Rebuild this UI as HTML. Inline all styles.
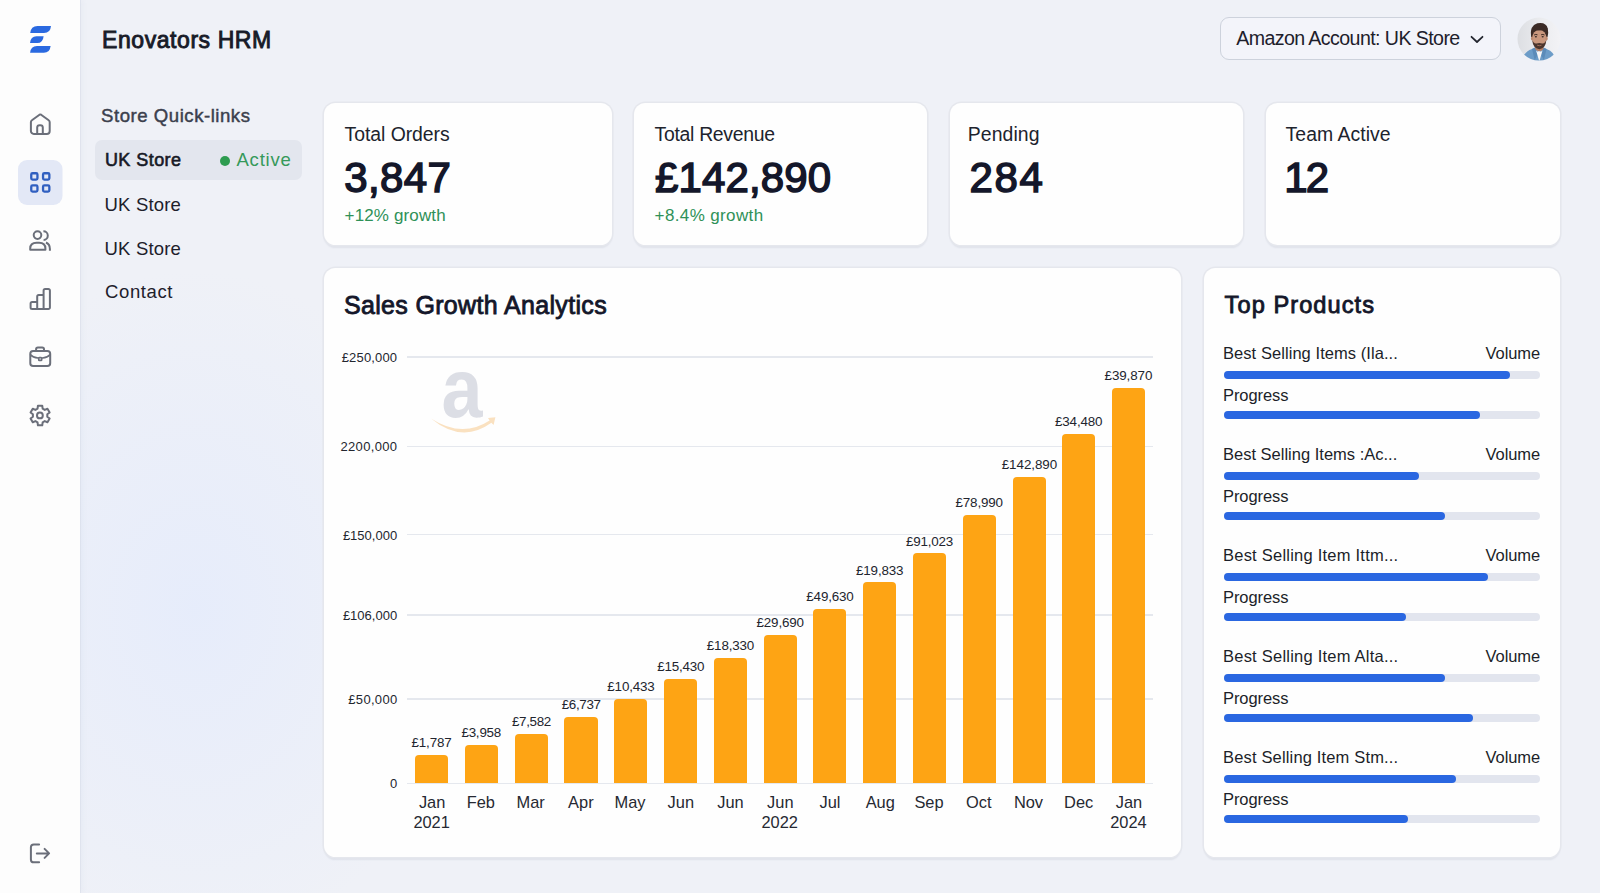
<!DOCTYPE html>
<html lang="en"><head><meta charset="utf-8"><title>Enovators HRM</title>
<style>
html,body{margin:0;padding:0}
body{width:1600px;height:893px;overflow:hidden;position:relative;background:radial-gradient(ellipse 270px 340px at 195px 610px,rgba(228,235,252,.8),rgba(228,235,252,0) 100%),#eff1f7;font-family:"Liberation Sans",sans-serif;}
.t{position:absolute;white-space:pre;line-height:1}
.abs{position:absolute}
.sidebar{position:absolute;left:0;top:0;width:80px;height:893px;background:#fdfdfd;box-shadow:1px 0 0 rgba(215,220,232,.55),3px 0 5px rgba(120,130,170,.05)}
.card{position:absolute;background:#fefefe;border-radius:11.5px;box-shadow:0 0 0 1.6px #e5e7ed,0 2.2px 1.6px rgba(85,95,125,.10)}

.track{position:absolute;height:8px;border-radius:4px;background:#e2e5ee}
.fill{position:absolute;left:0;top:0;height:100%;border-radius:4px;background:#2a67e1}
.grid{position:absolute;height:1.7px;background:#e5e8ee;left:406.5px;width:746.5px}
.bar{position:absolute;background:#fea414;border-radius:4px 4px 0 0;width:33.2px}
svg{position:absolute;overflow:visible}
</style></head><body>

<aside class="sidebar">
<svg width="80" height="893" viewBox="0 0 80 893" fill="none" stroke="#6b6f7a" stroke-width="2" stroke-linecap="round" stroke-linejoin="round">
<g fill="#2a69e0" stroke="none">
<path d="M30.2 33 Q30.9 26 37.5 26 L51 26 Q50.4 33 44 33 Z"/>
<path d="M30 43 Q30.6 36.2 36.5 36.2 L43.6 36.2 Q43 43 37.3 43 Z"/>
<path d="M30.1 52.8 Q30.7 46 37 46 L50.6 46 Q50 52.8 43.8 52.8 Z"/>
</g>
<path d="M30.9 122.2 Q30.9 121 31.9 120.3 L39.5 114.7 Q40.3 114.2 41.1 114.7 L48.7 120.3 Q49.7 121 49.7 122.2 V131 a2.9 2.9 0 0 1 -2.9 2.9 H33.8 a2.9 2.9 0 0 1 -2.9 -2.9 Z"/>
<path d="M37.2 133.9 V127.6 a2.4 2.4 0 0 1 2.4 -2.4 h0.8 a2.4 2.4 0 0 1 2.4 2.4 V133.9"/>
<rect x="18" y="160" width="44.5" height="45" rx="9" fill="#e3e8f6" stroke="none"/>
<g stroke="#305fc0" stroke-width="2.3">
<rect x="31.25" y="173.25" width="6.2" height="6.3" rx="1.3"/><rect x="43.05" y="173.25" width="6.3" height="6.3" rx="1.3"/>
<rect x="31.25" y="185.35" width="6.2" height="6.2" rx="1.3"/><rect x="43.05" y="185.35" width="6.3" height="6.2" rx="1.3"/>
</g>
<circle cx="37.5" cy="235.1" r="3.8"/>
<path d="M30.2 249.8 V248.6 Q30.2 242.8 36.6 242.8 H39.1 Q45.4 242.8 45.4 248.6 V249.8 Z"/>
<path d="M43.4 231.3 A4 4 0 0 1 43.6 239.9" stroke-linecap="butt"/>
<path d="M46 242.5 Q49.9 244.2 49.9 249 V250.7" stroke-linecap="butt"/>
<path d="M37.2 308.9 V301.9 H32.1 a1.5 1.5 0 0 0 -1.5 1.5 V307.4 a1.5 1.5 0 0 0 1.5 1.5 H48.4 a1.5 1.5 0 0 0 1.5 -1.5 V290.5 a1.5 1.5 0 0 0 -1.5 -1.5 H45.1 a1.5 1.5 0 0 0 -1.5 1.5 V308.9 M43.6 295 H38.7 a1.5 1.5 0 0 0 -1.5 1.5 V302"/>
<rect x="30.3" y="350.9" width="19.9" height="15.2" rx="2.8"/>
<path d="M36.1 350.9 v-1.6 a1.8 1.8 0 0 1 1.8 -1.8 h4.3 a1.8 1.8 0 0 1 1.8 1.8 v1.6"/>
<path d="M30.6 354.8 Q33 357.7 38 358 H42.4 Q47.4 357.7 49.9 354.8" stroke-width="1.7"/>
<rect x="38.7" y="357.6" width="3" height="2.8" rx=".7" stroke-width="1.6" fill="#fdfdfe"/>
<path d="M37.54 408.66 L37.94 405.74 L42.26 405.74 L42.66 408.66 L44.74 409.87 L47.47 408.74 L49.64 412.49 L47.30 414.30 L47.30 416.70 L49.64 418.51 L47.47 422.26 L44.74 421.13 L42.66 422.34 L42.26 425.26 L37.94 425.26 L37.54 422.34 L35.46 421.13 L32.73 422.26 L30.56 418.51 L32.90 416.70 L32.90 414.30 L30.56 412.49 L32.73 408.74 L35.46 409.87 Z"/>
<circle cx="39.9" cy="415.4" r="2.9"/>
<path d="M39.1 844.4 H33.8 a2.9 2.9 0 0 0 -2.9 2.9 V859.4 a2.9 2.9 0 0 0 2.9 2.9 H39.1"/>
<path d="M36.8 853.4 H48.9 M44.6 848.9 L49.1 853.4 L44.6 857.9"/>
</svg>
</aside>
<div class="abs" style="left:1220.3px;top:17.4px;width:280.7px;height:42.2px;box-sizing:border-box;border:1px solid #cdd2dc;border-radius:9px;background:#f3f4fa"></div>
<svg width="16" height="10" style="left:1469px;top:34px" viewBox="1469 34 16 10" fill="none" stroke="#22252e" stroke-width="1.75" stroke-linecap="round" stroke-linejoin="round"><path d="M1471.5 36.8 L1477 42 L1482.5 36.8"/></svg>
<svg width="44" height="44" style="left:1516.5px;top:17px" viewBox="1516.5 17 44 44">
<defs><clipPath id="av"><circle cx="1538.5" cy="39.1" r="21.5"/></clipPath>
<linearGradient id="avbg" x1="0" x2="1"><stop offset="0" stop-color="#dcdee2"/><stop offset=".55" stop-color="#ebecef"/><stop offset="1" stop-color="#f3f3f6"/></linearGradient></defs>
<g clip-path="url(#av)">
<rect x="1516" y="17" width="45" height="45" fill="url(#avbg)"/>
<path d="M1521.5 62 Q1522.5 52 1531.5 49 L1534.6 47.6 L1538.7 53 L1543 47.6 L1546 49 Q1554.6 52 1556 62 Z" fill="#6c9cc8"/>
<path d="M1531.5 49 L1534.6 47.6 L1537 55 L1534.2 60 Z M1546 49 L1543 47.6 L1540.6 55 L1543.4 60 Z" fill="#5b8bb9"/>
<path d="M1535.6 50.4 L1538.8 61.5 L1542 50.4 Q1538.8 53.4 1535.6 50.4 Z" fill="#f5f5f6"/>
<path d="M1534.6 43 h8.4 v6 q-4.2 4.4 -8.4 0 Z" fill="#b47f66"/>
<path d="M1530.6 37 Q1529 25.4 1536.8 23.2 Q1545.6 21.6 1547.3 28.4 Q1548.2 32.6 1547 37 Z" fill="#3b2a25"/>
<ellipse cx="1538.8" cy="38.4" rx="7.2" ry="8.6" fill="#c9977d"/>
<ellipse cx="1531.5" cy="38.4" rx="1.1" ry="2" fill="#bd8a70"/><ellipse cx="1546.1" cy="38.4" rx="1.1" ry="2" fill="#bd8a70"/>
<path d="M1531.7 39.8 Q1532.4 48.6 1538.8 49.2 Q1545.2 48.6 1545.9 39.8 Q1544.6 43.8 1541.6 43.4 Q1538.8 42.4 1536 43.4 Q1533 43.8 1531.7 39.8 Z" fill="#4b352d"/>
<path d="M1536.6 45.2 q2.2 1 4.4 0" stroke="#a8705c" stroke-width=".9" fill="none"/>
<path d="M1533.6 35 q1.6 -1 3.4 -.2 M1540.6 34.8 q1.8 -.8 3.4 .2" stroke="#3c2a25" stroke-width="1" fill="none"/>
<ellipse cx="1535.4" cy="36.8" rx="1.1" ry=".7" fill="#3a2a26"/><ellipse cx="1542.2" cy="36.8" rx="1.1" ry=".7" fill="#3a2a26"/>
<path d="M1531.3 36.5 Q1531 31.4 1533.2 29.6 Q1538.6 31.4 1544 29.4 Q1546.6 31.2 1546.4 36.5 Q1547.6 32 1546.6 28 Q1539 24 1531.4 28.4 Q1530.2 32 1531.3 36.5 Z" fill="#3b2a25"/>
</g></svg>
<header><span class="t" style="left:102.0px;top:28.5px;font-size:23px;color:#181b28;letter-spacing:0.57px;-webkit-text-stroke:0.9px #181b28;">Enovators HRM</span>
<span class="t" style="left:1236.2px;top:29.0px;font-size:19.6px;color:#1d202b;letter-spacing:-0.58px;">Amazon Account: UK Store</span>
</header>
<nav><div class="abs" style="left:95px;top:140.3px;width:207px;height:40px;border-radius:7px;background:#e3e6ee"></div><div class="abs" style="left:219.6px;top:155.7px;width:10px;height:10px;border-radius:50%;background:#2e9c50"></div><span class="t" style="left:101.1px;top:107.0px;font-size:18.6px;color:#3b404d;letter-spacing:0.52px;-webkit-text-stroke:0.45px #3b404d;">Store Quick-links</span>
<span class="t" style="left:104.9px;top:151.4px;font-size:18px;color:#161925;letter-spacing:0.45px;-webkit-text-stroke:0.6px #161925;">UK Store</span>
<span class="t" style="left:236.5px;top:150.9px;font-size:18.5px;color:#35995a;letter-spacing:0.77px;">Active</span>
<span class="t" style="left:104.5px;top:195.5px;font-size:18.5px;color:#1d202b;letter-spacing:0.19px;">UK Store</span>
<span class="t" style="left:104.5px;top:239.5px;font-size:18.5px;color:#1d202b;letter-spacing:0.19px;">UK Store</span>
<span class="t" style="left:105.1px;top:282.7px;font-size:18.5px;color:#1d202b;letter-spacing:0.59px;">Contact</span>
</nav>
<section class="card" style="left:324.0px;top:103px;width:287.9px;height:142.2px"></section><span class="t" style="left:344.6px;top:124.5px;font-size:19.4px;color:#20232d;letter-spacing:-0.05px;">Total Orders</span>
<span class="t" style="left:344.3px;top:157.4px;font-size:42px;color:#14172a;letter-spacing:0.39px;-webkit-text-stroke:1.5px #14172a;">3,847</span>
<span class="t" style="left:344.6px;top:207.2px;font-size:17px;color:#2f9158;letter-spacing:0.13px;">+12% growth</span>

<section class="card" style="left:634.05px;top:103px;width:292.85px;height:142.2px"></section><span class="t" style="left:654.6px;top:124.5px;font-size:19.4px;color:#20232d;letter-spacing:-0.30px;">Total Revenue</span>
<span class="t" style="left:654.9px;top:157.4px;font-size:42px;color:#14172a;letter-spacing:0.16px;-webkit-text-stroke:1.5px #14172a;">£142,890</span>
<span class="t" style="left:654.6px;top:207.2px;font-size:17px;color:#2f9158;letter-spacing:0.37px;">+8.4% growth</span>

<section class="card" style="left:950.0px;top:103px;width:292.9px;height:142.2px"></section><span class="t" style="left:967.8px;top:124.5px;font-size:19.4px;color:#20232d;letter-spacing:0.09px;">Pending</span>
<span class="t" style="left:969.5px;top:157.4px;font-size:42px;color:#14172a;letter-spacing:1.65px;-webkit-text-stroke:1.5px #14172a;">284</span>

<section class="card" style="left:1265.8px;top:103px;width:294.4px;height:142.2px"></section><span class="t" style="left:1285.6px;top:124.5px;font-size:19.4px;color:#20232d;letter-spacing:0.04px;">Team Active</span>
<span class="t" style="left:1284.3px;top:157.4px;font-size:42px;color:#14172a;letter-spacing:-1.80px;-webkit-text-stroke:1.5px #14172a;">12</span>

<section class="card" style="left:323.9px;top:267.7px;width:857.2px;height:589.1px"></section>
<section class="card" style="left:1204px;top:267.7px;width:355.9px;height:589.1px"></section>
<span class="t" style="left:343.9px;top:292.9px;font-size:25px;color:#14172a;letter-spacing:0.34px;-webkit-text-stroke:0.85px #14172a;">Sales Growth Analytics</span>
<span class="t" style="left:1224.6px;top:293.8px;font-size:23.6px;color:#14172a;letter-spacing:1.06px;-webkit-text-stroke:0.85px #14172a;">Top Products</span>

<svg width="70" height="66" style="left:428px;top:368px" viewBox="428 368 70 66">
<text x="441.6" y="416.8" font-family="Liberation Sans, sans-serif" font-weight="700" font-size="84" fill="#dcdee5" textLength="41" lengthAdjust="spacingAndGlyphs">a</text>
<path d="M431 418.4 Q462 438.5 489.6 420.4 L488 418 L495.4 417.3 L493.6 425 L491.4 422.8 Q462 444 431 418.4 Z" fill="#fae1c0"/>
</svg>
<div class="grid" style="top:356.3px"></div>
<div class="grid" style="top:445.6px"></div>
<div class="grid" style="top:533.8px"></div>
<div class="grid" style="top:614.1px"></div>
<div class="grid" style="top:698.4px"></div>
<div class="grid" style="top:782.5px"></div>
<span class="t" style="left:341.7px;top:351.1px;font-size:13px;color:#23262f;letter-spacing:0.17px;">£250,000</span>
<span class="t" style="left:340.4px;top:440.4px;font-size:13px;color:#23262f;letter-spacing:0.35px;">2200,000</span>
<span class="t" style="left:342.9px;top:528.5px;font-size:13px;color:#23262f;">£150,000</span>
<span class="t" style="left:342.9px;top:608.9px;font-size:13px;color:#23262f;">£106,000</span>
<span class="t" style="left:348.3px;top:693.2px;font-size:13px;color:#23262f;letter-spacing:0.31px;">£50,000</span>
<span class="t" style="left:389.9px;top:777.3px;font-size:13px;color:#23262f;">0</span>

<div class="bar" style="left:415.0px;top:754.8px;height:28.6px"></div>
<div class="bar" style="left:464.8px;top:744.7px;height:38.7px"></div>
<div class="bar" style="left:514.6px;top:733.6px;height:49.8px"></div>
<div class="bar" style="left:564.4px;top:716.8px;height:66.6px"></div>
<div class="bar" style="left:614.2px;top:698.7px;height:84.7px"></div>
<div class="bar" style="left:664.0px;top:678.9px;height:104.5px"></div>
<div class="bar" style="left:713.7px;top:658.0px;height:125.4px"></div>
<div class="bar" style="left:763.5px;top:634.5px;height:148.9px"></div>
<div class="bar" style="left:813.3px;top:608.6px;height:174.8px"></div>
<div class="bar" style="left:863.1px;top:582.4px;height:201.0px"></div>
<div class="bar" style="left:912.9px;top:553.2px;height:230.2px"></div>
<div class="bar" style="left:962.7px;top:514.6px;height:268.8px"></div>
<div class="bar" style="left:1012.5px;top:476.7px;height:306.7px"></div>
<div class="bar" style="left:1062.3px;top:434.0px;height:349.4px"></div>
<div class="bar" style="left:1112.1px;top:387.7px;height:395.7px"></div>
<span class="t" style="left:411.5px;top:736.1px;font-size:13.4px;color:#22252e;letter-spacing:-0.15px;">£1,787</span>
<span class="t" style="left:418.9px;top:794.1px;font-size:16.4px;color:#262932;">Jan</span>
<span class="t" style="left:413.4px;top:814.1px;font-size:16.4px;color:#262932;">2021</span>
<span class="t" style="left:461.4px;top:726.0px;font-size:13.4px;color:#22252e;letter-spacing:-0.21px;">£3,958</span>
<span class="t" style="left:466.7px;top:794.1px;font-size:16.4px;color:#262932;">Feb</span>
<span class="t" style="left:512.0px;top:714.9px;font-size:13.4px;color:#22252e;letter-spacing:-0.34px;">£7,582</span>
<span class="t" style="left:516.5px;top:794.1px;font-size:16.4px;color:#262932;">Mar</span>
<span class="t" style="left:561.7px;top:698.1px;font-size:13.4px;color:#22252e;letter-spacing:-0.34px;">£6,737</span>
<span class="t" style="left:568.1px;top:794.1px;font-size:16.4px;color:#262932;">Apr</span>
<span class="t" style="left:607.3px;top:680.0px;font-size:13.4px;color:#22252e;letter-spacing:-0.15px;">£10,433</span>
<span class="t" style="left:614.6px;top:794.1px;font-size:16.4px;color:#262932;">May</span>
<span class="t" style="left:657.2px;top:660.2px;font-size:13.4px;color:#22252e;letter-spacing:-0.19px;">£15,430</span>
<span class="t" style="left:667.6px;top:794.1px;font-size:16.4px;color:#262932;">Jun</span>
<span class="t" style="left:706.8px;top:639.3px;font-size:13.4px;color:#22252e;letter-spacing:-0.15px;">£18,330</span>
<span class="t" style="left:717.3px;top:794.1px;font-size:16.4px;color:#262932;">Jun</span>
<span class="t" style="left:756.5px;top:615.8px;font-size:13.4px;color:#22252e;letter-spacing:-0.15px;">£29,690</span>
<span class="t" style="left:767.1px;top:794.1px;font-size:16.4px;color:#262932;">Jun</span>
<span class="t" style="left:761.5px;top:814.1px;font-size:16.4px;color:#262932;">2022</span>
<span class="t" style="left:806.3px;top:589.9px;font-size:13.4px;color:#22252e;letter-spacing:-0.15px;">£49,630</span>
<span class="t" style="left:819.5px;top:794.1px;font-size:16.4px;color:#262932;">Jul</span>
<span class="t" style="left:856.0px;top:563.7px;font-size:13.4px;color:#22252e;letter-spacing:-0.15px;">£19,833</span>
<span class="t" style="left:865.7px;top:794.1px;font-size:16.4px;color:#262932;">Aug</span>
<span class="t" style="left:905.9px;top:534.5px;font-size:13.4px;color:#22252e;letter-spacing:-0.19px;">£91,023</span>
<span class="t" style="left:914.4px;top:794.1px;font-size:16.4px;color:#262932;">Sep</span>
<span class="t" style="left:955.5px;top:495.9px;font-size:13.4px;color:#22252e;letter-spacing:-0.15px;">£78,990</span>
<span class="t" style="left:966.0px;top:794.1px;font-size:16.4px;color:#262932;">Oct</span>
<span class="t" style="left:1001.7px;top:458.0px;font-size:13.4px;color:#22252e;letter-spacing:-0.05px;">£142,890</span>
<span class="t" style="left:1013.9px;top:794.1px;font-size:16.4px;color:#262932;">Nov</span>
<span class="t" style="left:1055.0px;top:415.3px;font-size:13.4px;color:#22252e;letter-spacing:-0.15px;">£34,480</span>
<span class="t" style="left:1064.1px;top:794.1px;font-size:16.4px;color:#262932;">Dec</span>
<span class="t" style="left:1104.6px;top:369.0px;font-size:13.4px;color:#22252e;letter-spacing:-0.11px;">£39,870</span>
<span class="t" style="left:1115.7px;top:794.1px;font-size:16.4px;color:#262932;">Jan</span>
<span class="t" style="left:1110.2px;top:814.1px;font-size:16.4px;color:#262932;">2024</span>

<div class="track" style="left:1223.6px;top:370.7px;width:316.3px"><div class="fill" style="width:286.6px"></div></div>
<div class="track" style="left:1223.6px;top:411.3px;width:316.3px"><div class="fill" style="width:256.1px"></div></div>
<span class="t" style="left:1223.0px;top:344.8px;font-size:16.5px;color:#1c1f29;letter-spacing:0.06px;">Best Selling Items (Ila...</span>
<span class="t" style="left:1485.6px;top:344.8px;font-size:16.5px;color:#1c1f29;letter-spacing:-0.11px;">Volume</span>
<span class="t" style="left:1223.0px;top:387.3px;font-size:16.5px;color:#1c1f29;letter-spacing:-0.07px;">Progress</span>

<div class="track" style="left:1223.6px;top:471.7px;width:316.3px"><div class="fill" style="width:195.6px"></div></div>
<div class="track" style="left:1223.6px;top:512.3px;width:316.3px"><div class="fill" style="width:221.1px"></div></div>
<span class="t" style="left:1223.0px;top:445.8px;font-size:16.5px;color:#1c1f29;">Best Selling Items :Ac...</span>
<span class="t" style="left:1485.6px;top:445.8px;font-size:16.5px;color:#1c1f29;letter-spacing:-0.11px;">Volume</span>
<span class="t" style="left:1223.0px;top:488.3px;font-size:16.5px;color:#1c1f29;letter-spacing:-0.07px;">Progress</span>

<div class="track" style="left:1223.6px;top:572.7px;width:316.3px"><div class="fill" style="width:264.3px"></div></div>
<div class="track" style="left:1223.6px;top:613.3px;width:316.3px"><div class="fill" style="width:182.0px"></div></div>
<span class="t" style="left:1223.0px;top:546.8px;font-size:16.5px;color:#1c1f29;letter-spacing:0.23px;">Best Selling Item Ittm...</span>
<span class="t" style="left:1485.6px;top:546.8px;font-size:16.5px;color:#1c1f29;letter-spacing:-0.11px;">Volume</span>
<span class="t" style="left:1223.0px;top:589.3px;font-size:16.5px;color:#1c1f29;letter-spacing:-0.07px;">Progress</span>

<div class="track" style="left:1223.6px;top:673.7px;width:316.3px"><div class="fill" style="width:221.2px"></div></div>
<div class="track" style="left:1223.6px;top:714.3px;width:316.3px"><div class="fill" style="width:249.8px"></div></div>
<span class="t" style="left:1223.0px;top:647.8px;font-size:16.5px;color:#1c1f29;letter-spacing:0.23px;">Best Selling Item Alta...</span>
<span class="t" style="left:1485.6px;top:647.8px;font-size:16.5px;color:#1c1f29;letter-spacing:-0.11px;">Volume</span>
<span class="t" style="left:1223.0px;top:690.3px;font-size:16.5px;color:#1c1f29;letter-spacing:-0.07px;">Progress</span>

<div class="track" style="left:1223.6px;top:774.7px;width:316.3px"><div class="fill" style="width:232.2px"></div></div>
<div class="track" style="left:1223.6px;top:815.3px;width:316.3px"><div class="fill" style="width:184.4px"></div></div>
<span class="t" style="left:1223.0px;top:748.8px;font-size:16.5px;color:#1c1f29;letter-spacing:0.16px;">Best Selling Item Stm...</span>
<span class="t" style="left:1485.6px;top:748.8px;font-size:16.5px;color:#1c1f29;letter-spacing:-0.11px;">Volume</span>
<span class="t" style="left:1223.0px;top:791.3px;font-size:16.5px;color:#1c1f29;letter-spacing:-0.07px;">Progress</span>

</body></html>
